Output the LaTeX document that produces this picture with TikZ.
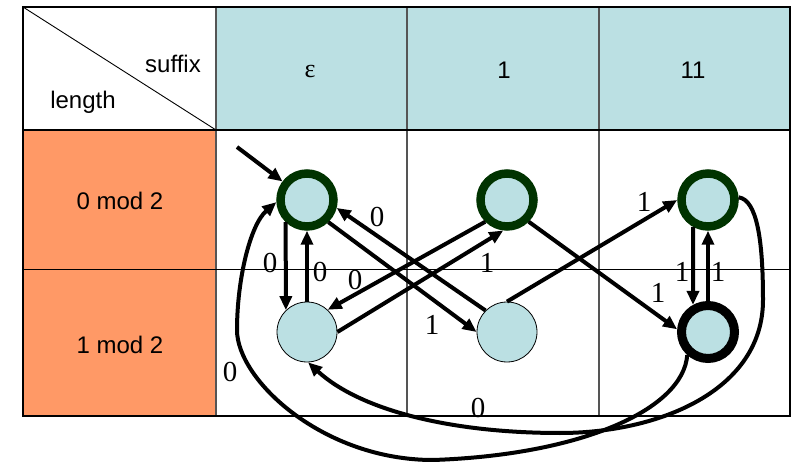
\documentclass[tikz,border=0pt]{standalone}
\usepackage{fontspec}
\setmainfont{Liberation Sans}
\newfontfamily\serifnum{Liberation Serif}
\usetikzlibrary{arrows.meta}
\definecolor{hdrblue}{RGB}{187,224,227}
\definecolor{rowor}{RGB}{255,153,102}
\definecolor{dkgreen}{RGB}{0,51,0}
\definecolor{gridgray}{RGB}{85,85,85}
\tikzset{
  tabtext/.style={font=\fontsize{24}{26}\selectfont, inner sep=0pt},
  elabel/.style={font=\serifnum\fontsize{29}{31}\selectfont, inner sep=0pt},
  accstate/.style={circle, fill=hdrblue, draw=dkgreen, line width=8.5pt, minimum size=53pt, inner sep=0pt},
  plainstate/.style={circle, fill=hdrblue, draw=black, line width=0.8pt, minimum size=60pt, inner sep=0pt},
  finstate/.style={circle, fill=hdrblue, draw=black, line width=9pt, minimum size=53pt, inner sep=0pt},
  trans/.style={line width=4pt, -{Triangle[length=14pt,width=12pt]}},
}
\begin{document}
\begin{tikzpicture}[x=1pt,y=-1pt]
\useasboundingbox (0,0) rectangle (798,462);
% table
\fill[hdrblue] (216,7) rectangle (790,130);
\fill[rowor] (23,130) rectangle (216,416);
\draw[gridgray, line width=1.3pt] (216,7) -- (216,416) (407,7) -- (407,416) (599,7) -- (599,416);
\draw[black, line width=1.3pt] (23,130) -- (790,130);
\draw[black, line width=0.9pt] (23,269) -- (790,269);
\draw[black, line width=0.9pt] (23,7) -- (216,130);
\draw[black, line width=2.6pt] (23,7) rectangle (790,416);
% header texts
\node[tabtext, anchor=base] (hsuf) at (173,72.5) {suffix};
\node[tabtext, anchor=base] (hlen) at (83,109) {length};
\node[tabtext, anchor=base, font=\serifnum\fontsize{26}{28}\selectfont] (heps) at (310,78) {ε};
\node[tabtext, anchor=base] (hone) at (504,79) {1};
\node[tabtext, anchor=base] (htwo) at (693,79) {11};
\node[tabtext, anchor=base] (r0) at (120,210) {0 mod 2};
\node[tabtext, anchor=base] (r1) at (120,353) {1 mod 2};
% states
\node[accstate] (e0) at (307,200) {};
\node[plainstate] (e1) at (307,332) {};
\node[accstate] (m0) at (507,200) {};
\node[plainstate] (m1) at (507,332) {};
\node[accstate] (t0) at (708,200) {};
\node[finstate] (t1) at (708,332) {};
\coordinate (start) at (237,147);
% transitions
\draw[trans] (start) -- (e0);
\draw[trans] (e0.-134) -- (e1.134);
\draw[trans] (e1.north) -- (e0.south);
\draw[trans] (e0.-46) -- (m1.west);
\draw[trans] (m1.135) -- (e0.-15);
\draw[trans] (m0.-135) -- (e1.47);
\draw[trans] (e1.east) -- (m0.-97);
\draw[trans] (m1.north) -- (t0.west);
\draw[trans] (m0.-45) -- (t1.175);
\draw[trans] (t0.-119) -- (t1.119);
\draw[trans] (t1.north) -- (t0.south);
\draw[trans] (t1.-132) .. controls (683,410) and (580,455) .. (433,460)
  .. controls (323,460) and (237,380) .. (237,330)
  .. controls (237,280) and (250,225) .. (e0.184);
\draw[trans] (t0.5) .. controls (757,200) and (763,240) .. (763,300)
  .. controls (763,390) and (660,433) .. (560,433)
  .. controls (450,433) and (360,410) .. (e1.-88);
% labels
\node[elabel] (la) at (270,263) {0};
\node[elabel] (lb) at (320,272) {0};
\node[elabel] (lc) at (377,217) {0};
\node[elabel] (ld) at (355,280) {0};
\node[elabel] (le) at (487,263) {1};
\node[elabel] (lf) at (432,325) {1};
\node[elabel] (lg) at (644,202) {1};
\node[elabel] (lh) at (658,293) {1};
\node[elabel] (li) at (682,272) {1};
\node[elabel] (lj) at (718,272) {1};
\node[elabel] (lk) at (230,372) {0};
\node[elabel] (ll) at (478,408) {0};
\end{tikzpicture}
\end{document}
